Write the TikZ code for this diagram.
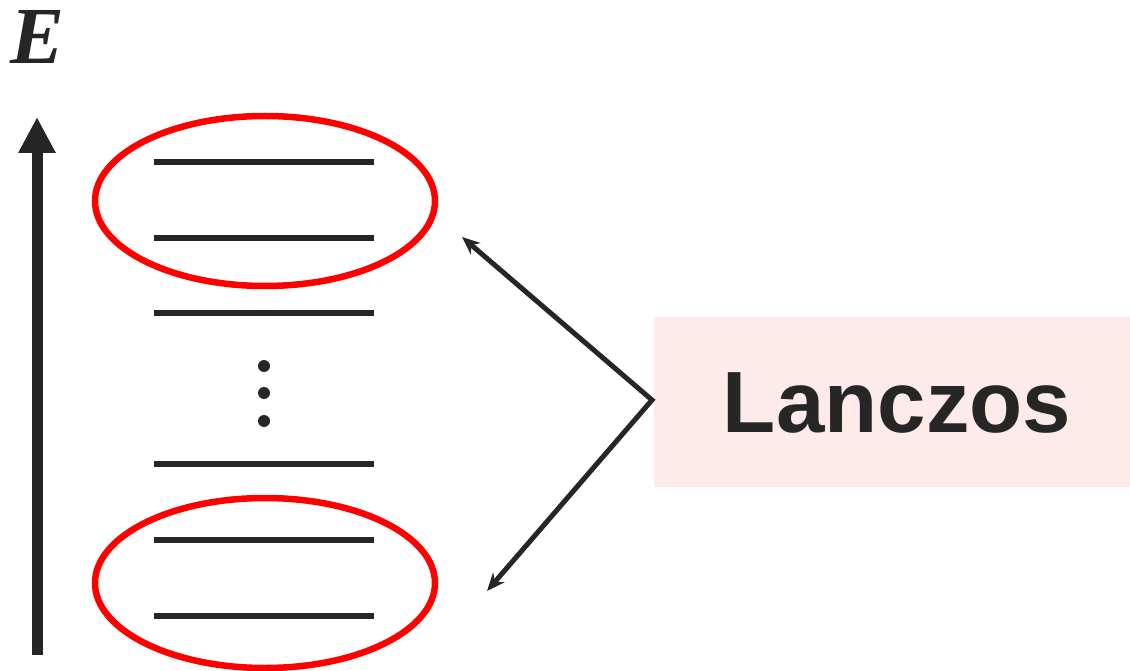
\documentclass[tikz,border=0pt]{standalone}
\usepackage{fontspec}
\usetikzlibrary{arrows.meta,shapes.geometric}
\newfontfamily\serifE{Liberation Serif}
\newfontfamily\sansL{Liberation Sans}
\definecolor{ink}{HTML}{262626}
\definecolor{ellred}{HTML}{FF0000}
\definecolor{boxpink}{HTML}{FDEBEC}
\tikzset{
  level/.style={draw=ink, line width=6pt, line cap=butt},
  ring/.style={draw=ellred, line width=6.5pt, ellipse, minimum width=340pt, minimum height=170pt, inner sep=0pt},
  pointer/.style={draw=ink, line width=5pt, line join=miter, {Stealth[length=18pt,width=15pt]}-{Stealth[length=18pt,width=15pt]}},
  dotmark/.style={fill=ink, circle, inner sep=0pt, minimum size=12pt}
}
\begin{document}
\begin{tikzpicture}[x=1pt,y=-1pt]
\useasboundingbox (0,0) rectangle (1130,671);
% axis
\coordinate (axb) at (37,655);
\coordinate (axt) at (37,117);
\draw[draw=ink, line width=11pt, -{Triangle[length=36pt,width=35pt]}] (axb) -- (axt);
\node[anchor=base, inner sep=0pt, text=ink] (E) at (38,64) {\fontsize{81}{90}\selectfont\serifE\bfseries\itshape E};
% levels
\foreach \y/\n in {162/l1,238/l2,313/l3,464/l4,540/l5,616/l6}{
  \coordinate (\n a) at (154,\y);
  \coordinate (\n b) at (374,\y);
  \draw[level] (\n a) -- (\n b);
}
\node[dotmark] (d1) at (264,366) {};
\node[dotmark] (d2) at (264,393) {};
\node[dotmark] (d3) at (264,421) {};
% ellipses
\node[ring] (top) at (265,201) {};
\node[ring] (bot) at (265,583) {};
% box
\node[fill=boxpink, minimum width=476pt, minimum height=170pt, inner sep=0pt, anchor=north west] (box) at (654,317) {};
\node[anchor=base, inner sep=0pt, text=ink] (lab) at (897,432) {\fontsize{87}{90}\selectfont\sansL\bfseries Lanczos};
% pointers
\coordinate (j) at (652,400);
\coordinate (tt) at (462,237);
\coordinate (bt) at (487,591);
\draw[pointer] (tt) -- (j) -- (bt);
\end{tikzpicture}
\end{document}
